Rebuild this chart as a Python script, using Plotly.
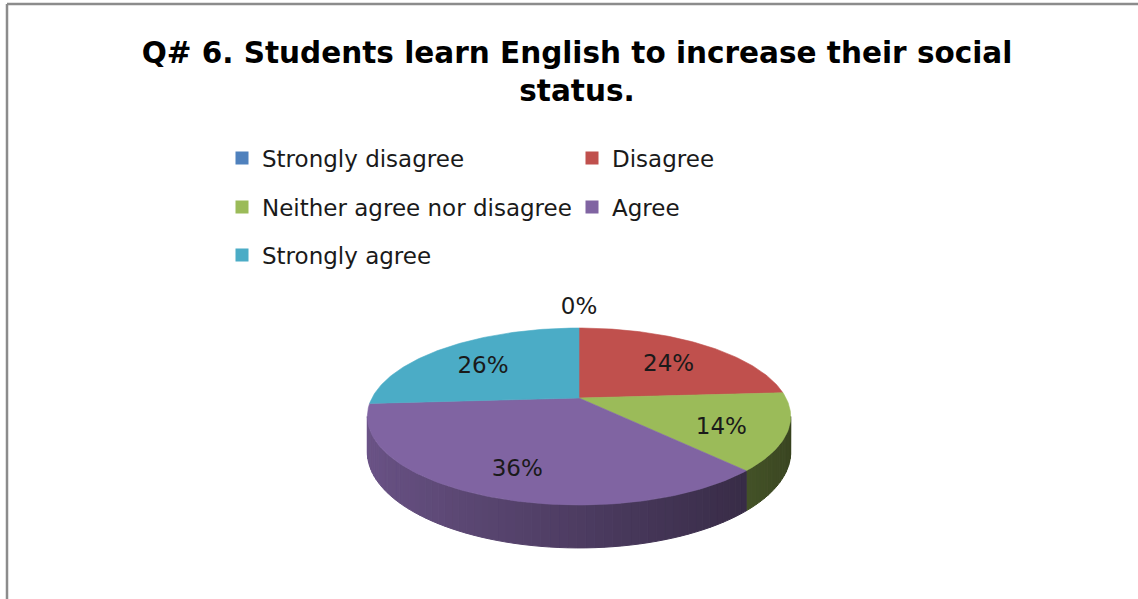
import numpy as np
import plotly.graph_objects as go

# Survey responses (percent of students)
categories = ["Strongly disagree", "Disagree", "Neither agree nor disagree", "Agree", "Strongly agree"]
percent = [0, 24, 14, 36, 26]
colors = ["#4F81BD", "#C0504D", "#9BBB59", "#8064A2", "#4BACC6"]
legend_rows = ["legend", "legend", "legend2", "legend2", "legend3"]

title_text = "Q# 6. Students learn English to increase their social<br>status."

# Canvas and 3-D pie geometry (pixel space)
W, H = 1138, 599
CX, CY = 579, 398          # centre of the top face
RX, RY = 207, 84.6         # ellipse radii of the top face
PERSP = 0.209              # perspective foreshortening
DEPTH = 34                 # thickness of the disc
FONT_TXT = "DejaVu Sans"


def project(t_deg, r=1.0, z=0.0):
    t = np.radians(t_deg)
    c, s = np.cos(t), np.sin(t)
    f = 1 + PERSP * s * r
    return CX + RX * r * c / f, CY - RY * r * s / f + z / f


def hex_rgb(h):
    h = h.lstrip("#")
    return [int(h[i:i + 2], 16) for i in (0, 2, 4)]


def shaded(h, t_deg):
    # side wall lighting: bright on the left, dark on the right
    k = 0.36 + 0.48 * (1 - np.cos(np.radians(t_deg))) / 2
    r, g, b = [int(round(v * k)) for v in hex_rgb(h)]
    return f"rgb({r},{g},{b})"


# slice angles: start at 12 o'clock, run clockwise
spans = [360 * p / sum(percent) for p in percent]
ends = 90 - np.cumsum(spans)
starts = ends + np.array(spans)

# the wall is visible between the two silhouette points of the disc
sil = np.degrees(np.arcsin(PERSP))
VIS_HI, VIS_LO = -sil, -180.0 + sil

fig = go.Figure()

# --- side wall (front half only), drawn as thin shaded strips ---
for cat, col, t0, t1 in zip(categories, colors, starts, ends):
    hi, lo = min(t0, VIS_HI), max(t1, VIS_LO)
    if hi <= lo:
        continue
    n = max(2, int(np.ceil((hi - lo) / 2.0)) + 1)
    ts = np.linspace(hi, lo, n)
    for a, b in zip(ts[:-1], ts[1:]):
        seg = np.linspace(a, b, 3)
        xt, yt = project(seg)
        xb, yb = project(seg[::-1], z=DEPTH)
        xs = np.concatenate([xt, xb, xt[:1]])
        ys = np.concatenate([yt, yb, yt[:1]])
        c = shaded(col, (a + b) / 2)
        fig.add_trace(go.Scatter(
            x=xs, y=ys, mode="lines", fill="toself", fillcolor=c,
            line=dict(color=c, width=1), hoverinfo="skip", showlegend=False))

# --- top faces ---
for cat, col, p, t0, t1 in zip(categories, colors, percent, starts, ends):
    if p == 0:
        continue
    ts = np.linspace(t0, t1, max(3, int(abs(t0 - t1)) + 1))
    xa, ya = project(ts)
    xs = np.concatenate([[CX], xa, [CX]])
    ys = np.concatenate([[CY], ya, [CY]])
    fig.add_trace(go.Scatter(
        x=xs, y=ys, mode="lines", fill="toself", fillcolor=col,
        line=dict(color=col, width=0.6), hoverinfo="skip", showlegend=False))

# --- percentage labels ---
mids = (starts + ends) / 2
lab_r = [1.36 if p == 0 else 0.7 for p in percent]
lab_z = [0 if p == 0 else 7 for p in percent]
lx, ly = zip(*[project(m, r, z) for m, r, z in zip(mids, lab_r, lab_z)])
fig.add_trace(go.Scatter(
    x=list(lx), y=list(ly), mode="text", text=[f"{p}%" for p in percent],
    textfont=dict(family=FONT_TXT, size=23, color="#1a1a1a"),
    hoverinfo="skip", showlegend=False))

# --- legend entries ---
for cat, col, lg in zip(categories, colors, legend_rows):
    fig.add_trace(go.Scatter(
        x=[None], y=[None], mode="markers", name=cat, legend=lg,
        marker=dict(symbol="square", size=13, color=col)))

leg_common = dict(orientation="h", xanchor="left", yanchor="middle",
                  entrywidth=305, entrywidthmode="pixels",
                  font=dict(family=FONT_TXT, size=23, color="#1a1a1a"),
                  bgcolor="rgba(0,0,0,0)", itemclick=False, itemdoubleclick=False)

fig.update_layout(
    width=W, height=H,
    margin=dict(l=0, r=0, t=0, b=0),
    paper_bgcolor="white", plot_bgcolor="white",
    title=dict(text=title_text, x=577 / W, xanchor="center",
               y=1 - 63 / H, yanchor="middle",
               font=dict(family="DejaVu Sans", size=29.5, color="#000000", weight="bold")),
    xaxis=dict(range=[0, W], visible=False, fixedrange=True),
    yaxis=dict(range=[H, 0], visible=False, fixedrange=True),
    legend=dict(x=222 / W, y=1 - 158 / H, **leg_common),
    legend2=dict(x=222 / W, y=1 - 207 / H, **leg_common),
    legend3=dict(x=222 / W, y=1 - 255 / H, **leg_common),
    shapes=[
        dict(type="line", xref="paper", yref="paper", x0=7 / W, x1=1,
             y0=1 - 4 / H, y1=1 - 4 / H, line=dict(color="#8c8c8c", width=2.5)),
        dict(type="line", xref="paper", yref="paper", x0=7 / W, x1=7 / W,
             y0=1 - 4 / H, y1=0, line=dict(color="#8c8c8c", width=2.5)),
    ],
)

fig.write_html("out.html")
